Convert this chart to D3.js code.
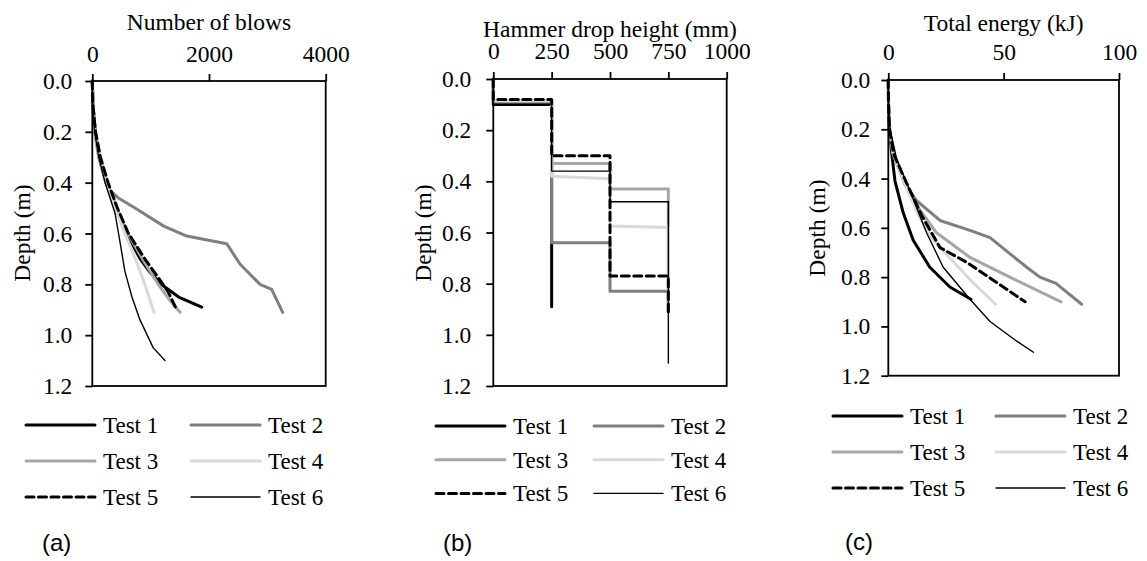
<!DOCTYPE html>
<html>
<head>
<meta charset="utf-8">
<script src="https://cdn.jsdelivr.net/npm/d3@7"></script>
<style>
  body { margin: 0; background: #fff; }
  text { font-family: "Liberation Serif", "Times New Roman", serif; fill: #000; }
</style>
</head>
<body>
<div id="chart"></div>
<script>
// ---- data ----
const tests = ["Test 1", "Test 2", "Test 3", "Test 4", "Test 5", "Test 6"];
const depthTicks = [0, 0.2, 0.4, 0.6, 0.8, 1.0, 1.2];

// (a) number of blows vs depth (m)
const blowsDepth = [
  [0, 0.1, 0.2, 0.3, 0.4, 0.5, 0.6, 0.7, 0.75, 0.8, 0.85, 0.89],
  [0, 0.1, 0.2, 0.3, 0.4, 0.43, 0.46, 0.5, 0.57, 0.61, 0.64, 0.72, 0.8, 0.82, 0.91],
  [0, 0.1, 0.2, 0.3, 0.4, 0.5, 0.6, 0.7, 0.8, 0.86, 0.91],
  [0, 0.1, 0.2, 0.3, 0.4, 0.5, 0.6, 0.7, 0.8, 0.91],
  [0, 0.08, 0.2, 0.3, 0.4, 0.5, 0.6, 0.7, 0.77, 0.83, 0.9],
  [0, 0.1, 0.2, 0.3, 0.4, 0.52, 0.6, 0.75, 0.85, 0.94, 1.05, 1.1]
];
const blowsCount = [
  [0, 15, 50, 120, 240, 400, 590, 820, 980, 1180, 1480, 1875],
  [0, 10, 40, 110, 230, 303, 446, 732, 1217, 1618, 2303, 2531, 2874, 3074, 3263],
  [0, 10, 50, 130, 260, 420, 610, 860, 1130, 1320, 1503],
  [0, 10, 45, 120, 240, 390, 560, 740, 900, 1057],
  [0, 5, 55, 140, 270, 430, 620, 900, 1120, 1300, 1446],
  [0, 10, 40, 110, 220, 389, 450, 560, 680, 817, 1045, 1246]
];
const blowsTicks = [0, 2000, 4000];

// (b) hammer drop height (mm) vs depth (m)
const dropDepth = [
  [0, 0.1, 0.1, 0.89],
  [0, 0.09, 0.09, 0.64, 0.64, 0.83, 0.83, 0.91],
  [0, 0.085, 0.085, 0.33, 0.33, 0.43, 0.43, 0.91],
  [0, 0.085, 0.085, 0.38, 0.39, 0.575, 0.58, 0.91],
  [0, 0.08, 0.08, 0.30, 0.30, 0.77, 0.77, 0.91],
  [0, 0.1, 0.1, 0.36, 0.36, 0.48, 0.48, 1.11]
];
const dropHeight = [
  [0, 0, 250, 250],
  [0, 0, 250, 250, 500, 500, 750, 750],
  [0, 0, 250, 250, 500, 500, 750, 750],
  [0, 0, 250, 250, 500, 500, 750, 750],
  [0, 0, 250, 250, 500, 500, 750, 750],
  [0, 0, 250, 250, 500, 500, 750, 750]
];
const dropTicks = [0, 250, 500, 750, 1000];

// (c) total energy (kJ) vs depth (m)
const energyDepth = [
  [0, 0.1, 0.22, 0.3, 0.41, 0.54, 0.65, 0.76, 0.84, 0.89],
  [0, 0.1, 0.2, 0.3, 0.42, 0.49, 0.57, 0.61, 0.64, 0.76, 0.8, 0.825, 0.91],
  [0, 0.1, 0.2, 0.3, 0.42, 0.49, 0.62, 0.72, 0.8, 0.9],
  [0, 0.1, 0.2, 0.3, 0.42, 0.55, 0.65, 0.81, 0.91],
  [0, 0.1, 0.2, 0.3, 0.42, 0.55, 0.68, 0.74, 0.9],
  [0, 0.1, 0.2, 0.32, 0.45, 0.62, 0.76, 0.89, 0.98, 1.06, 1.105]
];
const energyKJ = [
  [0, 0.1, 0.7, 1.5, 2.9, 6.5, 10.8, 18, 26.7, 35.8],
  [0, 0.1, 0.4, 2, 7.2, 12.3, 22.4, 35.4, 44.1, 60, 65.7, 72.7, 83.8],
  [0, 0.1, 0.5, 2.2, 7, 10.8, 20.9, 35.4, 52.7, 74.9],
  [0, 0.1, 0.5, 2.2, 7.2, 13, 19.5, 35.4, 46.5],
  [0, 0.1, 0.5, 2.3, 8, 14.5, 22.4, 34, 59.3],
  [0, 0.1, 0.8, 3.6, 9.4, 16.6, 23.8, 35.4, 44.1, 55.7, 62.9]
];
const energyTicks = [0, 50, 100];

// ---- styles ----
const colors = ["#000000", "#7f7f7f", "#a6a6a6", "#d9d9d9", "#000000", "#000000"];
const widths = [3, 3, 3, 3, 3, 1.4];
const dashes = [null, null, null, null, "8,4.5", null];
const serif = '"Liberation Serif", "Times New Roman", serif';
const fontSize = "23.5px";

const svg = d3.select("#chart").append("svg")
  .attr("width", 1147)
  .attr("height", 561);

const panels = [
  { label: "(a)", title: "Number of blows", xs: blowsCount, ys: blowsDepth, ticks: blowsTicks,
    left: 92.3, right: 325.7, top: 81, bottom: 386, titleY: 30, xPad: 12, yPad: 13, yLabelX: 22, yLabelY: 233,
    legX: 26, legY: 425, legStep: 36, legCol: 165, labelX: 42, labelY: 551 },
  { label: "(b)", title: "Hammer drop height (mm)", xs: dropHeight, ys: dropDepth, ticks: dropTicks,
    left: 493.3, right: 726.7, top: 79, bottom: 386, titleY: 36.5, xPad: 13, yPad: 15, yLabelX: 423, yLabelY: 233,
    legX: 436, legY: 426, legStep: 33.7, legCol: 158, labelX: 443, labelY: 551 },
  { label: "(c)", title: "Total energy (kJ)", xs: energyKJ, ys: energyDepth, ticks: energyTicks,
    left: 888.3, right: 1119, top: 80, bottom: 375.7, titleY: 30.5, xPad: 13, yPad: 11, yLabelX: 817, yLabelY: 228,
    legX: 833, legY: 416, legStep: 36, legCol: 163, labelX: 845, labelY: 550 }
];

panels.forEach(p => {
  const x = d3.scaleLinear()
    .domain([p.ticks[0], p.ticks[p.ticks.length - 1]])
    .range([p.left, p.right]);
  const y = d3.scaleLinear()
    .domain([0, 1.2])
    .range([p.top, p.bottom]);

  const g = svg.append("g");

  // curves
  const line = d3.line()
    .x(d => x(d[0]))
    .y(d => y(d[1]));

  tests.forEach((t, i) => {
    const pts = p.xs[i].map((v, j) => [v, p.ys[i][j]]);
    g.append("path")
      .datum(pts)
      .attr("d", line)
      .attr("fill", "none")
      .attr("stroke", colors[i])
      .attr("stroke-width", widths[i])
      .attr("stroke-dasharray", dashes[i])
      .attr("stroke-linejoin", "round")
      .attr("stroke-linecap", "round");
  });

  // frame
  g.append("rect")
    .attr("x", p.left)
    .attr("y", p.top)
    .attr("width", p.right - p.left)
    .attr("height", p.bottom - p.top)
    .attr("fill", "none")
    .attr("stroke", "#000")
    .attr("stroke-width", 1.8);

  // axes
  const xAxis = g.append("g")
    .attr("transform", `translate(0,${p.top})`)
    .call(d3.axisTop(x).tickValues(p.ticks).tickSize(7).tickPadding(p.xPad).tickFormat(d3.format("d")));
  const yAxis = g.append("g")
    .attr("transform", `translate(${p.left},0)`)
    .call(d3.axisLeft(y).tickValues(depthTicks).tickSize(7).tickPadding(p.yPad).tickFormat(d3.format(".1f")));

  [xAxis, yAxis].forEach(a => {
    a.attr("font-family", serif).attr("font-size", fontSize);
    a.select(".domain").remove();
    a.selectAll(".tick line").attr("stroke", "#000").attr("stroke-width", 1.8);
    a.selectAll(".tick text")
      .style("font-family", serif)
      .style("font-size", fontSize)
      .attr("fill", "#000");
  });

  // titles
  g.append("text")
    .attr("x", (p.left + p.right) / 2)
    .attr("y", p.titleY)
    .attr("text-anchor", "middle")
    .style("font-size", fontSize)
    .text(p.title);

  g.append("text")
    .attr("transform", `translate(${p.yLabelX},${p.yLabelY}) rotate(-90)`)
    .attr("text-anchor", "middle")
    .attr("dy", "0.35em")
    .style("font-size", fontSize)
    .text("Depth (m)");

  // legend
  const legend = g.append("g");
  tests.forEach((t, i) => {
    const col = i % 2, row = Math.floor(i / 2);
    const lx = p.legX + col * p.legCol;
    const ly = p.legY + row * p.legStep;
    legend.append("line")
      .attr("x1", lx).attr("x2", lx + 69)
      .attr("y1", ly).attr("y2", ly)
      .attr("stroke", colors[i])
      .attr("stroke-width", widths[i])
      .attr("stroke-dasharray", dashes[i])
      .attr("stroke-linecap", "round");
    legend.append("text")
      .attr("x", lx + 77)
      .attr("y", ly + 8)
      .style("font-size", "23px")
      .text(t);
  });

  // panel label
  g.append("text")
    .attr("x", p.labelX)
    .attr("y", p.labelY)
    .style("font-family", '"Liberation Sans", Arial, sans-serif')
    .style("font-size", "24px")
    .text(p.label);
});
</script>
</body>
</html>
